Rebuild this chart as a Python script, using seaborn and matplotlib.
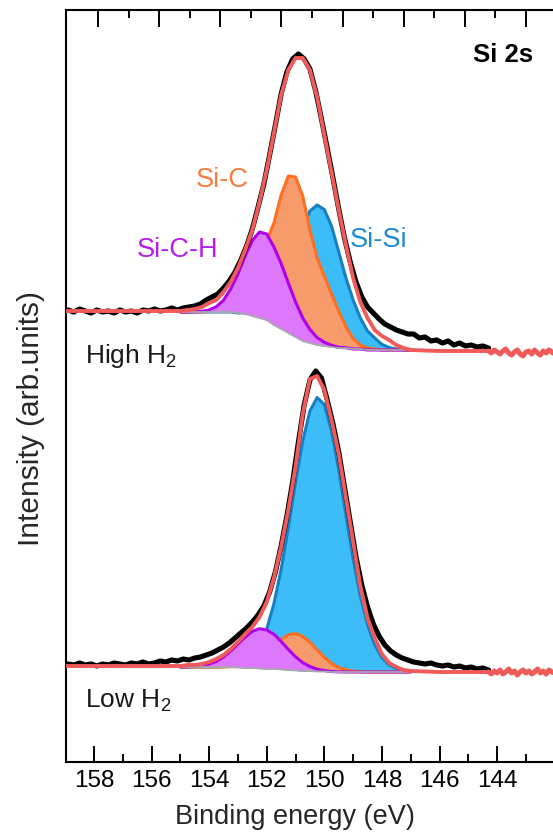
import matplotlib
matplotlib.use("Agg")
import matplotlib.pyplot as plt
from matplotlib.ticker import FixedLocator, NullFormatter
import numpy as np
import seaborn as sns

# ---------------- data (binding energy in eV, intensity in arb. units) ----------------
E_FIT = [155.0, 154.75, 154.5, 154.25, 154.0, 153.75, 153.5, 153.25, 153.0, 152.75,
         152.5, 152.25, 152.0, 151.75, 151.5, 151.25, 151.0, 150.75, 150.5, 150.25,
         150.0, 149.75, 149.5, 149.25, 149.0, 148.75, 148.5, 148.25, 148.0, 147.75,
         147.5, 147.25, 147.0]
E_ENV = [159.0, 157.0] + E_FIT + [146.0, 144.3]
E_DATA = [158.9, 158.7, 158.5, 158.3, 158.1, 157.9, 157.7, 157.5, 157.3, 157.1,
          156.9, 156.7, 156.5, 156.3, 156.1, 155.9, 155.7, 155.5, 155.3, 155.1,
          154.9, 154.7, 154.5, 154.3, 154.1, 153.9, 153.7, 153.5, 153.3, 153.1,
          152.9, 152.7, 152.5, 152.3, 152.1, 151.9, 151.7, 151.5, 151.3, 151.1,
          150.9, 150.7, 150.5, 150.3, 150.1, 149.9, 149.7, 149.5, 149.3, 149.1,
          148.9, 148.7, 148.5, 148.3, 148.1, 147.9, 147.7, 147.5, 147.3, 147.1,
          146.9, 146.7, 146.5, 146.3, 146.1, 145.9, 145.7, 145.5, 145.3, 145.1,
          144.9, 144.7, 144.5, 144.3]
E_TAIL = [144.3, 144.2, 144.1, 144.0, 143.9, 143.8, 143.7, 143.6, 143.5, 143.4,
          143.3, 143.2, 143.1, 143.0, 142.9, 142.8, 142.7, 142.6, 142.5, 142.4,
          142.3, 142.2, 142.1, 142.0]

# --- High H2 sample ---
high_data = [452, 450, 453, 451, 449, 452, 450, 451, 449, 452,
             450, 451, 449, 452, 451, 453, 451, 452, 454, 452,
             454, 455, 456, 458, 462, 465, 468, 474, 481, 490,
             502, 516, 533, 555, 578, 607, 637, 668, 690, 703,
             708, 703, 693, 671, 643, 614, 584, 553, 524, 500,
             480, 465, 455, 449, 443, 438, 435, 432, 430, 428,
             428, 424, 425, 421, 422, 419, 421, 417, 419, 416,
             417, 415, 416, 414]
high_env = [451, 451,
            451, 452, 453, 455, 459, 462, 470, 480, 494, 512,
            532, 560, 592, 629, 667, 692, 704, 704, 692, 665,
            627, 590, 552, 517, 484, 460, 444, 432, 426, 422,
            417, 414, 412,
            411, 411]
high_tail = [411, 409, 412, 410, 408, 411, 413, 409, 407, 410, 412, 408,
             406, 410, 411, 408, 412, 409, 407, 411, 409, 412, 410, 408]
high_bg = [450, 450, 450, 450, 450, 450, 450, 450, 449, 448,
           446, 444, 442, 437, 433, 429, 425, 421, 419, 417,
           416, 415, 414, 414, 413, 413, 412, 412, 412, 412,
           412, 412, 412]
high_sich = [0, 0, 0.2, 0.7, 2.1, 5.3, 11.8, 23, 39, 58,
             75.6, 86, 86, 78, 65.5, 50, 35, 23, 13.5, 7.4,
             3.7, 1.7, 0.7, 0.3, 0, 0, 0, 0, 0, 0,
             0, 0, 0]
high_sic = [0, 0, 0, 0, 0.5, 1.6, 3, 7, 16, 30,
            47, 63, 79, 102, 134, 157, 160, 145, 113, 87,
            70, 53, 37, 21, 10.5, 4, 2, 1, 0, 0,
            0, 0, 0]
high_sisi = [0, 0, 0, 0, 0, 0, 0, 0, 0, 1.5,
             4, 8, 16, 27, 42, 63, 88, 113, 132, 140,
             136.5, 121, 96, 70, 49, 31, 19, 12, 5.6, 2.5,
             1, 0, 0]

# --- Low H2 sample ---
low_data = [98, 97, 99, 97, 98, 96, 98, 97, 99, 98,
            97, 99, 98, 100, 98, 99, 101, 100, 102, 101,
            103, 102, 104, 105, 107, 109, 112, 115, 119, 124,
            129, 134, 140, 147, 156, 170, 190, 216, 246, 280,
            320, 357, 382, 391, 384, 362, 338, 310, 275, 240,
            205, 177, 155, 138, 126, 117, 111, 107, 104, 102,
            100, 99, 98, 99, 97, 96, 97, 95, 96, 94,
            95, 93, 94, 92]
low_env = [96, 96,
           96, 97, 97, 98, 100, 103, 107, 113, 120, 128,
           135, 145, 160, 184, 215, 252, 295, 348, 383, 386,
           372, 342, 308, 264, 220, 176, 144, 124, 108, 99,
           95, 92, 91,
           90, 90]
low_tail = [90, 88, 91, 89, 92, 88, 90, 93, 89, 91, 87, 90,
            92, 89, 91, 88, 90, 93, 89, 91, 88, 92, 90, 89]
low_bg = [95, 95, 95, 95, 95, 95, 95, 95, 94.5, 94,
          94, 93.5, 93, 93, 92.5, 92, 91.5, 91, 91, 90.5,
          90.5, 90, 90, 90, 90, 90, 90, 90, 90, 90,
          90, 90, 90]
low_sich = [0, 0.2, 0.6, 1.4, 2.9, 5.7, 10, 16, 23.4, 30.8,
            36.7, 39.8, 39, 34.8, 28, 20.6, 13.7, 8.3, 4.5, 2.2,
            1, 0.4, 0.15, 0, 0, 0, 0, 0, 0, 0,
            0, 0, 0]
low_sic = [0, 0, 0, 0, 0, 0, 0, 0.3, 1, 2.4,
           5, 9.3, 15.4, 22.7, 30, 35.3, 37, 34.6, 28.9, 21.5,
           14.3, 8.5, 4.5, 2.1, 0.9, 0.3, 0, 0, 0, 0,
           0, 0, 0]
low_sisi = [0, 0, 0, 0, 0, 0.1, 0.4, 1, 2.5, 5.6,
            11.5, 22, 40, 65.5, 100, 142.5, 188, 230, 260, 274,
            267, 241, 202, 157, 113, 75.6, 47, 27, 14.3, 7,
            3.3, 1.4, 0.5]

XTICKS = [158, 156, 154, 152, 150, 148, 146, 144]
XMINOR = [157, 155, 153, 151, 149, 147, 145, 143]

# ---------------- style ----------------
sns.set_theme(style="ticks")
plt.rcParams['font.family'] = ['Liberation Sans', 'DejaVu Sans']
plt.rcParams['mathtext.fontset'] = 'custom'
plt.rcParams['mathtext.rm'] = 'Liberation Sans'
plt.rcParams['mathtext.it'] = 'Liberation Sans:italic'
plt.rcParams['mathtext.bf'] = 'Liberation Sans:bold'

COL = {
    'sisi': ('#3cbdf8', '#1780c4'),
    'sic': ('#f79a6c', '#ff6f1f'),
    'sich': ('#dd77fb', '#b000e8'),
}

fig = plt.figure(figsize=(5.53, 8.38), dpi=100)
ax = fig.add_axes([66 / 553, 76 / 838, 487 / 553, 752 / 838])

E_fit = np.array(E_FIT)


def draw_spectrum(bg, sisi, sic, sich, env, data, tail):
    bg = np.array(bg, dtype=float)
    for comp, key, z in ((sisi, 'sisi', 2), (sic, 'sic', 3), (sich, 'sich', 4)):
        top = bg + np.array(comp, dtype=float)
        ax.fill_between(E_fit, bg, top, color=COL[key][0], lw=0, zorder=z)
        sns.lineplot(x=E_fit, y=top, ax=ax, color=COL[key][1], linewidth=2.2,
                     estimator=None, sort=False, zorder=z + 0.5)
    sns.lineplot(x=E_fit, y=bg, ax=ax, color='#a8a8b0', linewidth=1.3,
                 estimator=None, sort=False, zorder=4.8)
    sns.lineplot(x=E_DATA, y=data, ax=ax, color='black', linewidth=3.7,
                 estimator=None, sort=False, zorder=5)
    sns.lineplot(x=E_ENV, y=env, ax=ax, color='#f05a5a', linewidth=2.8,
                 estimator=None, sort=False, zorder=6)
    sns.lineplot(x=E_TAIL, y=tail, ax=ax, color='#f05a5a', linewidth=3.6,
                 estimator=None, sort=False, zorder=6)


draw_spectrum(high_bg, high_sisi, high_sic, high_sich, high_env, high_data, high_tail)
draw_spectrum(low_bg, low_sisi, low_sic, low_sich, low_env, low_data, low_tail)

ax.set_xlim(158.97, 142.06)
ax.set_ylim(0, 752)
ax.set_yticks([])
ax.xaxis.set_major_locator(FixedLocator(XTICKS))
ax.xaxis.set_minor_locator(FixedLocator(XMINOR))
ax.set_xticklabels([str(t) for t in XTICKS])
ax.tick_params(axis='x', which='both', direction='in', top=False, bottom=True,
               width=1.4, colors='black', labelsize=17.5, pad=6)
ax.tick_params(axis='x', which='major', length=11.5)
ax.tick_params(axis='x', which='minor', length=5.5)
for s in ('left', 'bottom'):
    ax.spines[s].set_linewidth(1.5)
    ax.spines[s].set_color('black')
ax.spines['right'].set_visible(False)
ax.spines['top'].set_visible(False)

ax.set_xlabel('Binding energy (eV)', fontsize=19.5)
ax.xaxis.set_label_coords(0.470, -0.056)
ax.set_ylabel('Intensity (arb.units)', fontsize=21.5)
ax.yaxis.set_label_coords(-0.043, 0.457)

# separate top scale ticks (no labels)
ax2 = ax.twiny()
ax2.set_xlim(-1.047, 14.884)
ax2.xaxis.set_major_locator(FixedLocator([0, 2, 4, 6, 8, 10, 12, 14]))
ax2.xaxis.set_minor_locator(FixedLocator([1, 3, 5, 7, 9, 11, 13]))
ax2.xaxis.set_major_formatter(NullFormatter())
ax2.tick_params(axis='x', which='both', direction='in', top=True, bottom=False,
                width=1.4, colors='black')
ax2.tick_params(axis='x', which='major', length=12)
ax2.tick_params(axis='x', which='minor', length=5.5)
for s in ('left', 'bottom', 'right'):
    ax2.spines[s].set_visible(False)
ax2.spines['top'].set_linewidth(1.5)
ax2.spines['top'].set_color('black')
ax2.patch.set_visible(False)

# annotations
ax.text(155.11, 505, 'Si-C-H', color='#b81ced', fontsize=19.5, ha='center', va='baseline', zorder=8)
ax.text(153.55, 575, 'Si-C', color='#fb7b3a', fontsize=19.5, ha='center', va='baseline', zorder=8)
ax.text(148.10, 515, 'Si-Si', color='#1f8bcf', fontsize=19.5, ha='center', va='baseline', zorder=8)
ax.text(143.79, 700, 'Si 2s', color='black', fontsize=18.5, fontweight='bold', ha='center', va='baseline', zorder=8)
ax.text(158.31, 399, r'High H$_{\mathrm{2}}$', color='#1a1a1a', fontsize=19, ha='left', va='baseline', zorder=8)
ax.text(158.31, 54, r'Low H$_{\mathrm{2}}$', color='#1a1a1a', fontsize=19, ha='left', va='baseline', zorder=8)

fig.savefig('out.png', dpi=100)
